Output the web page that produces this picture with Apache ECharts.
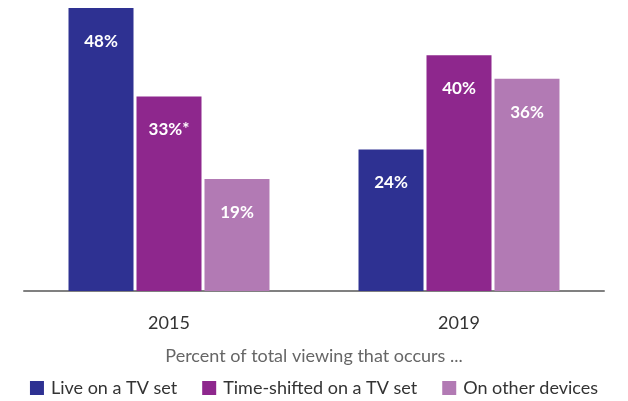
<!DOCTYPE html>
<html>
<head>
<meta charset="utf-8">
<script src="https://cdn.jsdelivr.net/npm/echarts@6/dist/echarts.min.js"></script>
<style>html,body{margin:0;padding:0;background:#fff}#c{width:628px;height:401px}</style>
</head>
<body>
<div id="c"></div>
<script>
var categories = ['2015', '2019'];
var seriesNames = ['Live on a TV set', 'Time-shifted on a TV set', 'On other devices'];
var liveValues = [48, 24];
var timeShiftedValues = [33, 40];
var otherDeviceValues = [19, 36];
var liveLabels = ['48%', '24%'];
var timeShiftedLabels = ['33%*', '40%'];
var otherDeviceLabels = ['19%', '36%'];
var subtitle = 'Percent of total viewing that occurs ...';

var colors = ['#2e3192', '#8e278d', '#b27ab4'];
var font = 'Lato, "Open Sans", sans-serif';

function mk(name, vals, labels, color) {
  return {
    name: name,
    type: 'bar',
    barWidth: 65,
    barGap: '4.6%',
    data: vals,
    itemStyle: {color: color},
    label: {
      show: true,
      position: 'insideTop',
      distance: 25,
      color: '#fff',
      fontWeight: 'bold',
      fontSize: 17,
      fontFamily: font,
      formatter: function (p) { return labels[p.dataIndex]; }
    }
  };
}

var chart = echarts.init(document.getElementById('c'));
chart.setOption({
  animation: false,
  color: colors,
  title: {
    text: subtitle,
    left: 'center',
    top: 342,
    textStyle: {fontSize: 18, fontWeight: 'normal', color: '#666', fontFamily: font}
  },
  legend: {
    data: seriesNames,
    top: 374,
    left: 'center',
    itemWidth: 14,
    itemHeight: 14,
    itemGap: 25,
    icon: 'rect',
    textStyle: {fontSize: 18, color: '#333', fontFamily: font, padding: [0, 0, 0, 2]}
  },
  grid: {left: 24, right: 24, top: 8, bottom: 110},
  xAxis: {
    type: 'category',
    data: categories,
    axisLine: {lineStyle: {color: '#808080', width: 2}},
    axisTick: {show: false},
    axisLabel: {color: '#333', fontSize: 18, fontFamily: font, margin: 23}
  },
  yAxis: {
    type: 'value',
    min: 0,
    max: 48,
    show: false,
    splitLine: {show: false}
  },
  series: [
    mk(seriesNames[0], liveValues, liveLabels, colors[0]),
    mk(seriesNames[1], timeShiftedValues, timeShiftedLabels, colors[1]),
    mk(seriesNames[2], otherDeviceValues, otherDeviceLabels, colors[2])
  ]
});
</script>
</body>
</html>
